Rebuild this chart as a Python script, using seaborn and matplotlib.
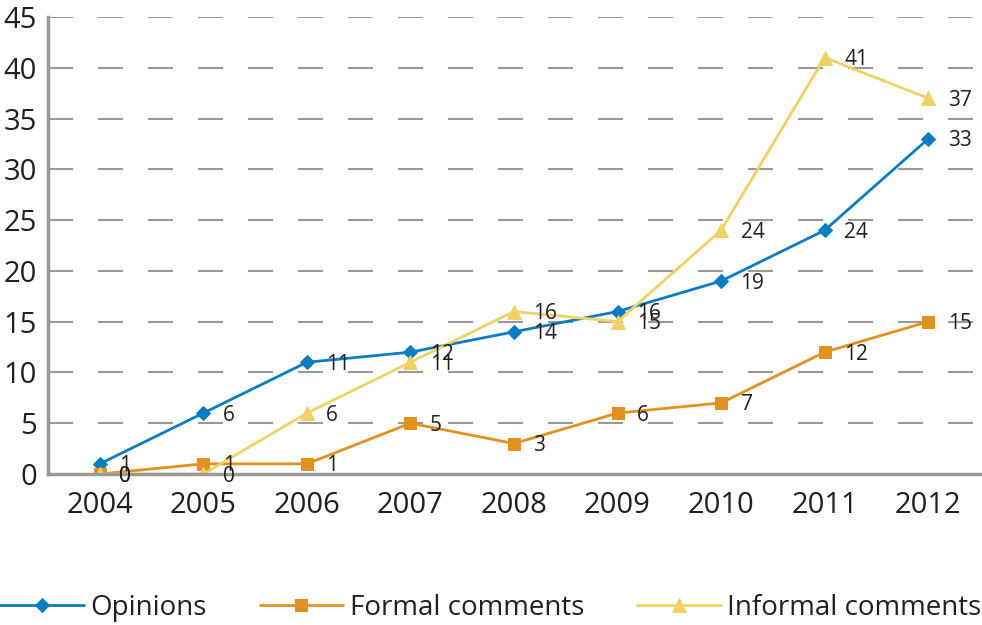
import matplotlib
matplotlib.use("Agg")
import matplotlib.pyplot as plt
import seaborn as sns
import numpy as np

years = ["2004", "2005", "2006", "2007", "2008", "2009", "2010", "2011", "2012"]
opinions = [1, 6, 11, 12, 14, 16, 19, 24, 33]
formal = [0, 1, 1, 5, 3, 6, 7, 12, 15]
informal = [0, 0, 6, 11, 16, 15, 24, 41, 37]
series_names = ["Opinions", "Formal comments", "Informal comments"]

sns.set_style("white")
plt.rcParams['font.family'] = ['Open Sans', 'DejaVu Sans']

fig = plt.figure(figsize=(9.82, 6.25), dpi=100)
ax = fig.add_axes([48/982, (625-474)/625, (980-48)/982, (474-17)/625])

x = np.arange(len(years))
colors = ["#0A7DC0", "#E3911E", "#F0D264"]
markers = ["D", "s", "^"]
msizes = [7, 9, 10]
data = [opinions, formal, informal]

for name, vals, c, m, ms in zip(series_names, data, colors, markers, msizes):
    sns.lineplot(x=x, y=vals, ax=ax, color=c, marker=m, markersize=ms,
                 markeredgecolor=c, linewidth=2, label=name, legend=False)
    for xi, v in zip(x, vals):
        ax.annotate(str(v), (xi, v), xytext=(14, -1.5), textcoords="offset points",
                    ha="left", va="center", fontsize=15, color="#231F20")

ax.set_xlim(-0.5, len(years) - 0.5)
ax.set_ylim(0, 45)
ax.set_yticks(np.arange(0, 46, 5))
ax.set_xticks(x)
ax.set_xticklabels(years)
ax.set_xticks(np.arange(-0.5, len(years)), minor=True)
ax.tick_params(axis="x", which="major", length=0, pad=12, labelsize=21, labelcolor="#231F20")
ax.tick_params(axis="x", which="minor", length=8, width=2, color="#999999", direction="out")
ax.tick_params(axis="y", length=6, width=2, color="#999999", labelsize=21, labelcolor="#231F20", pad=2)

for yv in np.arange(5, 46, 5):
    ax.axhline(yv, color="#999999", linewidth=1.5, linestyle=(0, (12, 12)), zorder=0)

for s in ["top", "right"]:
    ax.spines[s].set_visible(False)
for s in ["left", "bottom"]:
    ax.spines[s].set_color("#999999")
    ax.spines[s].set_linewidth(2.5)

handles, labels = ax.get_legend_handles_labels()
fig.legend(handles, labels, loc="center", bbox_to_anchor=(0.5, (625-608)/625), ncol=3,
           frameon=False, fontsize=20, handlelength=3.0, columnspacing=1.9,
           handletextpad=0.25, labelcolor="#231F20")

fig.savefig("out.png", dpi=100)
